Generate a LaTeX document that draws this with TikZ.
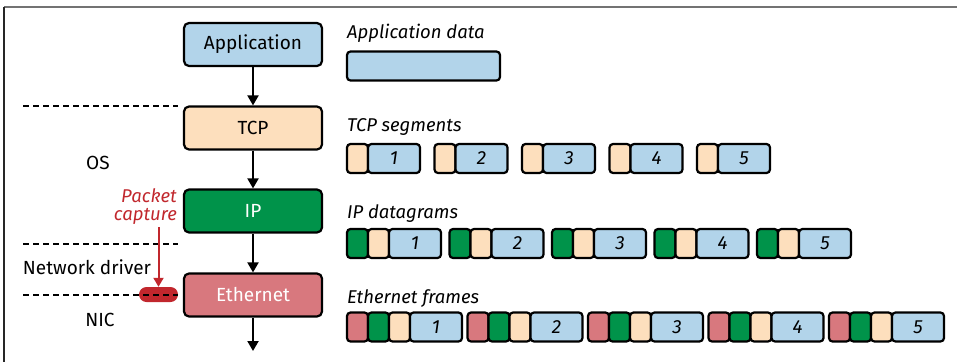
\documentclass[tikz,border=0pt]{standalone}
\usepackage{fontspec}
\setmainfont{Fira Sans}
\usetikzlibrary{arrows.meta,positioning}

\definecolor{appblue}{HTML}{B2D4EA}
\definecolor{tcppeach}{HTML}{FDDFBD}
\definecolor{ipgreen}{HTML}{00934A}
\definecolor{ethred}{HTML}{D8787E}
\definecolor{capred}{HTML}{C1272D}

\tikzset{
  layer/.style={draw, line width=2.2pt, rounded corners=5pt, minimum width=138pt,
    minimum height=43pt, font=\fontsize{19}{22}\selectfont},
  cell/.style={draw, line width=2.2pt, rounded corners=3.5pt, minimum height=29pt,
    inner sep=0pt, outer sep=0pt, anchor=west, font=\fontsize{19}{22}\selectfont\itshape},
  hdr/.style={cell, minimum width=21pt},
  body/.style={cell, minimum width=52pt, fill=appblue},
  flow/.style={line width=2pt, -{Triangle[length=10pt,width=11pt]}},
  layerline/.style={line width=1.8pt, dash pattern=on 6pt off 4pt},
  rowtitle/.style={anchor=base west, inner sep=0pt, font=\fontsize{18.5}{22}\selectfont\itshape},
  side/.style={inner sep=0pt, font=\fontsize{19}{22}\selectfont},
}

\begin{document}
\begin{tikzpicture}[x=1pt,y=-1pt]
\useasboundingbox (0,0) rectangle (957,362);

% frame
\draw[black!55, line width=2pt] (4,6.5) -- (957,6.5);
\draw[black!85, line width=1.5pt] (4,6.5) -- (4,362);

% protocol stack
\node[layer, fill=appblue] (app) at (253,44.5) {Application};
\node[layer, fill=tcppeach] (tcp) at (253,128) {TCP};
\node[layer, fill=ipgreen, text=white] (ip) at (253,211) {IP};
\node[layer, fill=ethred, text=white] (eth) at (253,295) {Ethernet};
\coordinate (wire) at (253,351);

\draw[flow] (app) -- (tcp);
\draw[flow] (tcp) -- (ip);
\draw[flow] (ip) -- (eth);
\draw[flow] (eth) -- (wire);

% layers
\node[rounded corners=7.5pt, fill=capred, minimum width=39pt, minimum height=15pt,
  inner sep=0pt] (pill) at (158.5,294.5) {};
\draw[layerline] (23,106) -- (178,106);
\draw[layerline] (23,244) -- (178,244);
\draw[layerline] (23,295) -- (178,295);

\node[side] (os) at (98,163) {OS};
\node[side] (drv) at (87,267) {Network driver};
\node[side] (nic) at (100,320) {NIC};

\node[anchor=east, inner sep=0pt, align=right, text=capred,
  font=\fontsize{18.5}{17.5}\selectfont\itshape] (cap) at (177,206.5) {Packet\\capture};
\draw[capred, line width=2pt, -{Triangle[length=9pt,width=10pt]}]
  (pill.north |- cap.south) ++(0,3) -- (pill.north);

% data units
\node[rowtitle] (appt) at (347,38.5) {Application data};
\node[cell, minimum width=153pt, fill=appblue] (data) at (347,66) {};

\node[rowtitle] (tcpt) at (347,131.5) {TCP segments};
\foreach \n [evaluate=\n as \x using 347+(\n-1)*87.5] in {1,...,5} {
  \node[hdr, fill=tcppeach] (tcph\n) at (\x,158.5) {};
  \node[body, right=0pt of tcph\n] (seg\n) {\n};
}

\node[rowtitle] (ipt) at (347,218.5) {IP datagrams};
\foreach \n [evaluate=\n as \x using 347+(\n-1)*102.5] in {1,...,5} {
  \node[hdr, fill=ipgreen] (iph\n) at (\x,243.5) {};
  \node[hdr, fill=tcppeach, right=0pt of iph\n] (iptcp\n) {};
  \node[body, right=0pt of iptcp\n] (dgram\n) {\n};
}

\node[rowtitle] (etht) at (347,303.5) {Ethernet frames};
\foreach \n [evaluate=\n as \x using 347+(\n-1)*120.5] in {1,...,5} {
  \node[hdr, fill=ethred] (ethh\n) at (\x,327) {};
  \node[hdr, fill=ipgreen, right=0pt of ethh\n] (ethip\n) {};
  \node[hdr, fill=tcppeach, right=0pt of ethip\n] (ethtcp\n) {};
  \node[body, right=0pt of ethtcp\n] (frame\n) {\n};
}
\end{tikzpicture}
\end{document}
